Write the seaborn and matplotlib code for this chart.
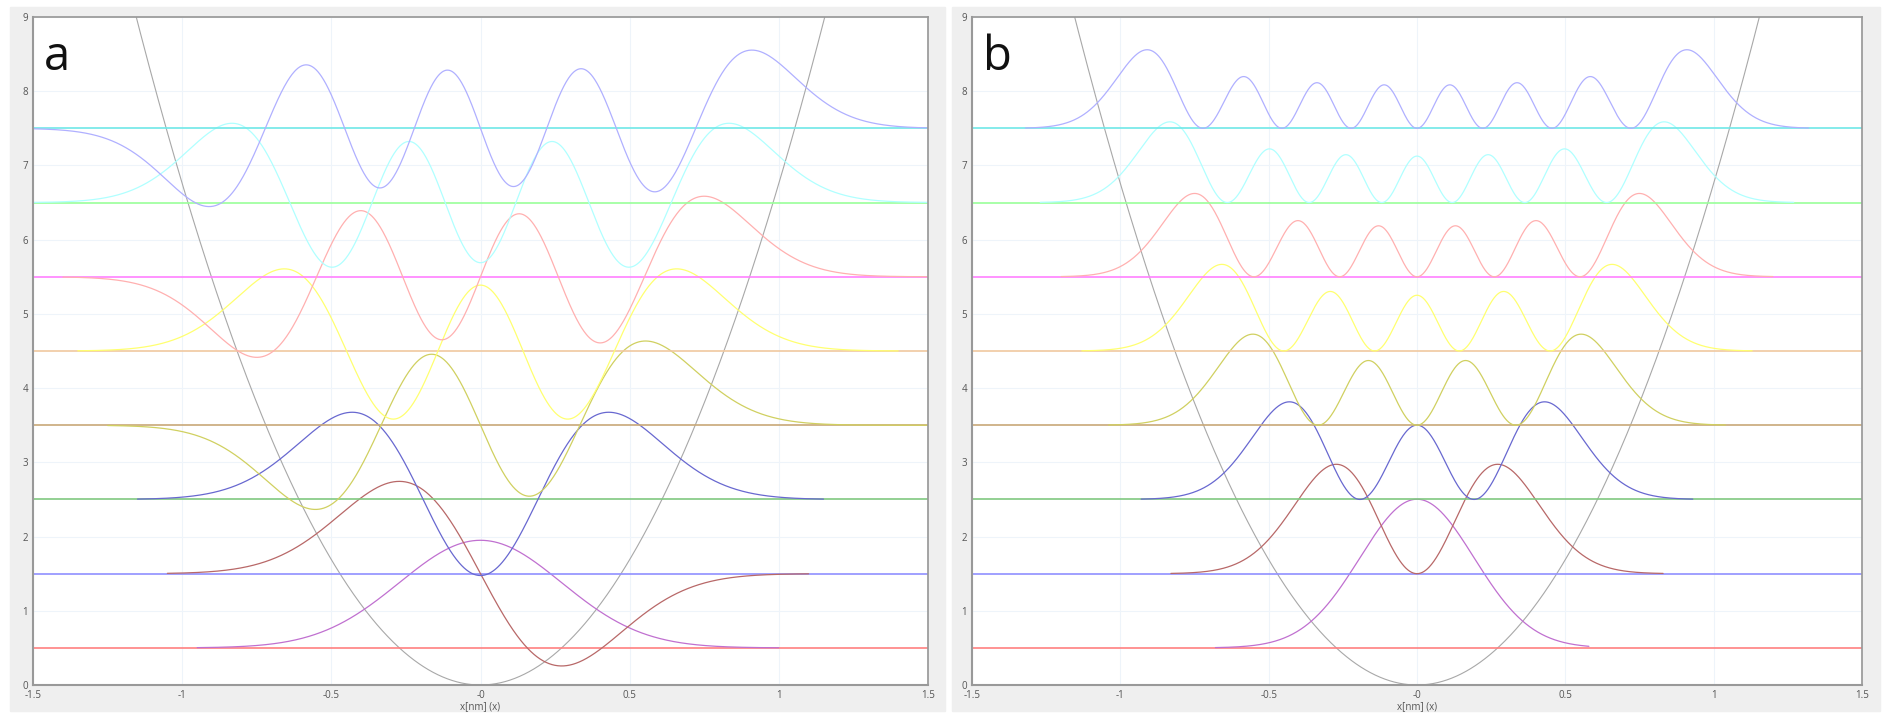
import numpy as np
import matplotlib.pyplot as plt
import seaborn as sns
from math import factorial, pi
from numpy.polynomial.hermite import hermval

sns.set_theme(style="white")
plt.rcParams['font.family'] = ['Open Sans', 'DejaVu Sans']

# oscillator levels and drawing parameters
levels = [0, 1, 2, 3, 4, 5, 6, 7]
energies = [0.5, 1.5, 2.5, 3.5, 4.5, 5.5, 6.5, 7.5]
length_scale = 0.272          # nm, from the node positions
amp_psi = 1.93                 # panel a scale
amp_prob = 3.55                # panel b scale
signs_a = [1, -1, 1, 1, 1, 1, 1, 1]
curve_colors = ['#c070d0', '#b86868', '#6868d0', '#d0d060',
                '#ffff70', '#ffb0b0', '#b0ffff', '#b0b0ff']
base_colors = ['#ff8080', '#9090ff', '#80c880', '#c8a878',
               '#f0c8a0', '#ff80ff', '#99ff99', '#70e8e8']
# x range where each curve is drawn (nm)
span_a = [(-0.95, 1.0), (-1.05, 1.1), (-1.15, 1.15), (-1.25, 1.5),
          (-1.35, 1.4), (-1.4, 1.5), (-1.5, 1.5), (-1.5, 1.5)]
span_b = [(-0.68, 0.58), (-0.83, 0.83), (-0.93, 0.93), (-1.04, 1.04),
          (-1.13, 1.13), (-1.2, 1.2), (-1.27, 1.27), (-1.32, 1.32)]
x_ticks = [-1.5, -1, -0.5, 0, 0.5, 1, 1.5]
x_tick_labels = ['-1.5', '-1', '-0.5', '-0', '0.5', '1', '1.5']


def psi(n, x):
    q = x / length_scale
    c = np.zeros(n + 1)
    c[n] = 1
    norm = 1 / np.sqrt(2 ** n * factorial(n)) * pi ** -0.25
    return norm * hermval(q, c) * np.exp(-q ** 2 / 2)


fig = plt.figure(figsize=(18.87, 7.15), dpi=100)
fig.patch.set_facecolor('white')
fig.add_artist(plt.Rectangle((10 / 1887, 0.005), 935 / 1887, 0.985,
                             color='#efefef', zorder=-10))
fig.add_artist(plt.Rectangle((952 / 1887, 0.005), 928 / 1887, 0.985,
                             color='#efefef', zorder=-10))
axes = [fig.add_axes([33 / 1887, 30 / 715, 895 / 1887, 668 / 715]),
        fig.add_axes([972 / 1887, 30 / 715, 890 / 1887, 668 / 715])]

xs = np.linspace(-1.5, 1.5, 1500)
for k, ax in enumerate(axes):
    ax.set_facecolor('white')
    ax.plot(xs, 0.5 * (xs / length_scale) ** 2, color='#a8a8a8', lw=0.8)
    for n in levels:
        ax.axhline(energies[n], color=base_colors[n], lw=1.2)
        lo, hi = (span_a if k == 0 else span_b)[n]
        xx = xs[(xs >= lo) & (xs <= hi)]
        if k == 0:
            yy = energies[n] + signs_a[n] * amp_psi * psi(n, xx)
        else:
            yy = energies[n] + amp_prob * psi(n, xx) ** 2
        sns.lineplot(x=xx, y=yy, ax=ax, color=curve_colors[n], lw=0.9)
    ax.set_xlim(-1.5, 1.5)
    ax.set_ylim(0, 9)
    ax.set_xticks(x_ticks, x_tick_labels)
    ax.set_yticks(range(10))
    ax.tick_params(labelsize=7, colors='#555555', length=3, direction='in')
    ax.grid(True, color='#eef4fa', lw=0.8)
    for s in ax.spines.values():
        s.set_color('#999999')
    ax.spines['left'].set_linewidth(1.5)
    ax.spines['bottom'].set_linewidth(1.5)
    ax.set_xlabel('x[nm] (x)', fontsize=7, color='#555555', labelpad=0)
    ax.text(0.012, 0.975, 'ab'[k], transform=ax.transAxes, fontsize=34,
            va='top', ha='left', color='#111111')

fig.savefig('out.png', dpi=100)
